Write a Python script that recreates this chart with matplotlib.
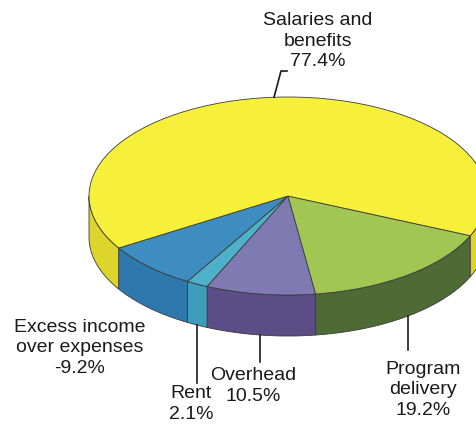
import numpy as np
import matplotlib.pyplot as plt

# slices in drawing order (counter-clockwise from the start angle)
labels = ['Excess income\nover expenses\n-9.2%', 'Rent\n2.1%', 'Overhead\n10.5%',
          'Program\ndelivery\n19.2%', 'Salaries and\nbenefits\n77.4%']
shares = [-9.2, 2.1, 10.5, 19.2, 77.4]
top_colors = ['#3d8dc0', '#4fb0c9', '#7f7bb2', '#a1c653', '#f6f03a']
side_colors = ['#2f78ae', '#3d9cbb', '#5b4e86', '#4e6b36', '#ddd42c']

plt.rcParams['font.family'] = ['Liberation Sans', 'DejaVu Sans']

W, H = 476, 425
CX, CY, RX, RY, DEPTH = 288, 196, 199, 99, 41
START = 211.7


def to_data(px, py):
    # pixel position -> unit-circle data space of the squashed pie
    return (px - CX) / RX, (CY - py) / RY


fig = plt.figure(figsize=(W / 100, H / 100), dpi=100)
ax = fig.add_axes([0, 0, 1, 1])

sizes = np.abs(shares)
depth = DEPTH / RY
edges = START + 360 * np.concatenate([[0], np.cumsum(sizes)]) / sizes.sum()

# side walls (only the front half is visible)
for i in range(len(sizes)):
    t = np.radians(np.linspace(edges[i], edges[i + 1], 800))
    idx = np.flatnonzero(np.sin(t) <= 0)
    if len(idx) == 0:
        continue
    for run in np.split(idx, np.flatnonzero(np.diff(idx) > 1) + 1):
        x = np.cos(t[run])
        y = np.sin(t[run])
        ax.fill(np.r_[x, x[::-1]], np.r_[y, y[::-1] - depth],
                color=side_colors[i], ec='#3a3a3a', lw=0.6)

# top face
ax.pie(sizes, colors=top_colors, startangle=START, counterclock=True, radius=1,
       wedgeprops=dict(ec='#3a3a3a', lw=0.6))
ax.set_aspect('auto')
ax.set_xlim(to_data(0, 0)[0], to_data(W, 0)[0])
ax.set_ylim(to_data(0, H)[1], to_data(0, 0)[1])
ax.axis('off')

# labels and leader lines
mids = np.radians((edges[:-1] + edges[1:]) / 2)
text_pos = [(80, 348), (191, 404), (253, 386), (423, 390), (318, 41)]
leader_end = [None, 383, 362, 350, 71]
for i, lab in enumerate(labels):
    tx, ty = to_data(*text_pos[i])
    ax.text(tx, ty, lab, ha='center', va='center', fontsize=14,
            linespacing=1.3, color='#1a1a1a')
    if leader_end[i] is None:
        continue
    ax_x, ax_y = np.cos(mids[i]), np.sin(mids[i])
    if ax_y < 0:
        ax_y = ax_y - depth
    end_y = to_data(0, leader_end[i])[1]
    if ax_y < 0:
        ax.plot([ax_x, ax_x], [ax_y, end_y], color='#1a1a1a', lw=1.2)
    else:
        bend_x = ax_x + 7 / RX
        ax.plot([ax_x, bend_x, bend_x + 6 / RX], [ax_y, end_y, end_y],
                color='#1a1a1a', lw=1.2)

fig.savefig('out.png', dpi=100)
